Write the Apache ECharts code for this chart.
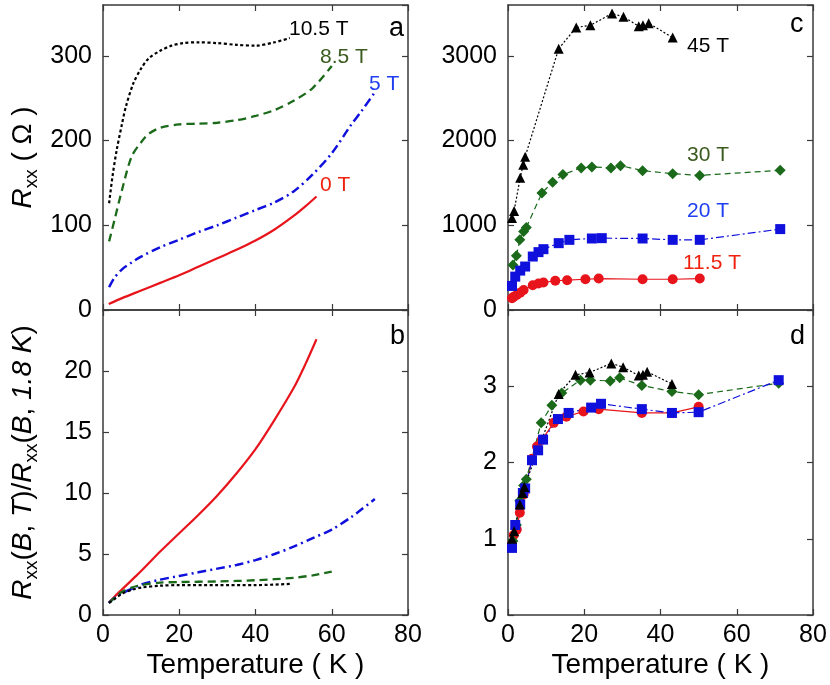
<!DOCTYPE html>
<html><head><meta charset="utf-8">
<script src="https://cdn.jsdelivr.net/npm/echarts@6/dist/echarts.min.js"></script>
<style>html,body{margin:0;padding:0;background:#fff}#c{width:830px;height:685px}</style>
</head><body><div id="c"></div>
<script>
// ---------- Panel a : Rxx (Ohm) vs T ----------
const tA0   = [1.5, 5, 10, 15, 20, 25, 30, 35, 40, 45, 50, 53, 56];
const rA0   = [7, 14, 23, 32, 41, 51, 61, 71, 82, 95, 111, 122, 134];
const tA5   = [1.6, 3, 5, 7.5, 10, 15, 20, 25, 30, 35, 40, 45, 50, 55, 60, 65, 68, 71.3];
const rA5   = [27, 38, 48, 56, 63, 74, 83, 92, 100, 109, 118, 127, 140, 160, 185, 218, 236, 257];
const tA85  = [1.6, 3, 5, 7.5, 10, 12, 15, 20, 25, 30, 35, 40, 45, 50, 55, 60];
const rA85  = [81, 106, 142, 181, 198, 208, 215, 219, 220, 221, 224, 229, 236, 247, 262, 288];
const tA105 = [1.6, 2.5, 3.6, 5, 6, 8, 10, 12, 15, 18, 21, 25, 30, 35, 40, 45, 49];
const rA105 = [126, 158, 189, 220, 240, 268, 285, 297, 306, 312, 315, 316, 315, 313, 312, 316, 321];
// ---------- Panel b : normalised ----------
const tB0   = [1.5, 3, 5, 8, 10, 15, 20, 25, 30, 35, 40, 45, 50, 53, 56];
const vB0   = [1, 1.5, 2.1, 3.0, 3.6, 5.2, 6.7, 8.2, 9.8, 11.6, 13.6, 16.0, 18.6, 20.5, 22.6];
const tB5   = [1.5, 3, 5, 8, 10, 15, 20, 25, 30, 35, 40, 45, 50, 55, 60, 65, 68, 71.3];
const vB5   = [1, 1.4, 1.8, 2.2, 2.5, 2.9, 3.2, 3.5, 3.8, 4.1, 4.5, 5.0, 5.6, 6.3, 7.0, 8.0, 8.7, 9.5];
const tB85  = [1.6, 3, 5, 7.5, 10, 15, 20, 30, 40, 50, 55, 60];
const vB85  = [1, 1.4, 1.9, 2.25, 2.45, 2.65, 2.7, 2.75, 2.85, 3.05, 3.25, 3.55];
const tB105 = [1.6, 3, 5, 8, 10, 15, 20, 30, 40, 49];
const vB105 = [1, 1.3, 1.75, 2.1, 2.25, 2.4, 2.45, 2.45, 2.45, 2.55];
// ---------- Panel c : high-field Rxx ----------
const tC45  = [1.05, 1.6, 3.2, 4.0, 4.5, 13.3, 17.9, 21.6, 27.3, 30.3, 34.3, 35.4, 36.9, 43.2];
const rC45  = [1085, 1170, 1560, 1715, 1810, 3085, 3335, 3360, 3500, 3460, 3350, 3360, 3385, 3215];
const tC30  = [1.3, 2.2, 3.1, 4.1, 4.8, 8.9, 11.7, 14.4, 19.2, 22, 27, 29.5, 35.3, 43.2, 50.3, 71.4];
const rC30  = [532, 640, 828, 927, 975, 1381, 1507, 1598, 1677, 1688, 1677, 1704, 1645, 1609, 1589, 1649];
const tC20  = [1.05, 1.9, 3.2, 4.5, 6.5, 8, 9.3, 13.3, 16.1, 22, 24.6, 35.3, 43.2, 50.3, 71.4];
const rC20  = [284, 394, 465, 513, 631, 683, 718, 789, 828, 844, 848, 844, 828, 828, 955];
const tC115 = [1.05, 1.5, 2.3, 3.2, 4.1, 6.5, 8, 9.3, 12.4, 15.5, 20.3, 23.8, 35.3, 43.2, 50.3];
const rC115 = [140, 157, 177, 205, 237, 292, 312, 325, 345, 352, 363, 371, 363, 363, 371];
// ---------- Panel d : normalised high-field ----------
const tD45  = [1.05, 1.6, 3.1, 3.8, 4.3, 13.3, 17.7, 21.4, 27.1, 30.2, 34.3, 35.4, 36.5, 43];
const vD45  = [1.0, 1.1, 1.45, 1.6, 1.68, 2.9, 3.15, 3.18, 3.3, 3.25, 3.14, 3.15, 3.19, 3.03];
const tD30  = [1.3, 2.2, 3.1, 4.1, 4.8, 8.7, 11.5, 14.1, 19, 21.6, 26.8, 29.3, 35.1, 43, 50, 71];
const vD30  = [0.97, 1.18, 1.5, 1.7, 1.78, 2.52, 2.75, 2.91, 3.08, 3.08, 3.07, 3.11, 3.01, 2.93, 2.89, 3.04];
const tD20  = [1.05, 1.9, 3.2, 3.9, 4.5, 6.3, 7.9, 9.2, 13.1, 15.9, 21.8, 24.4, 35.1, 43, 50, 71];
const vD20  = [0.88, 1.18, 1.45, 1.6, 1.66, 2.03, 2.16, 2.30, 2.57, 2.65, 2.72, 2.77, 2.70, 2.65, 2.66, 3.08];
const tD115 = [1.05, 1.5, 2.3, 3.1, 4.1, 6.3, 7.6, 8.9, 12, 15.3, 19.8, 23.8, 35.1, 43, 50];
const vD115 = [0.93, 1.05, 1.12, 1.34, 1.58, 2.05, 2.21, 2.3, 2.52, 2.6, 2.67, 2.70, 2.65, 2.65, 2.73];
// ---------- axes ----------
const xTicks = [0, 20, 40, 60, 80];
const yTicksA = [0, 100, 200, 300];
const yTicksB = [0, 5, 10, 15, 20];
const yTicksC = [0, 1000, 2000, 3000];
const yTicksD = [0, 1, 2, 3];

const zip = (a, b) => a.map((v, i) => [v, b[i]]);
const FONT = "'Liberation Sans', Arial, Helvetica, sans-serif";
const FRAME = '#3a3a3a';
const RED = '#e8141c', BLUE = '#1010dc', GREEN = '#1a6a1a', BLACK = '#000000';

const grids = [
  {left: 103, top: 5, width: 305, height: 305},
  {left: 103, top: 310, width: 305, height: 305},
  {left: 508, top: 5, width: 305, height: 305},
  {left: 508, top: 310, width: 305, height: 305}
].map(g => Object.assign(g, {containLabel: false, outerBoundsMode: 'none'}));

function xAx(gi, pos, showLabel) {
  return {
    type: 'value', gridIndex: gi, position: pos, min: 0, max: 80, interval: 20,
    axisLine: {show: true, onZero: false, lineStyle: {color: FRAME, width: 1.5}},
    axisTick: {show: true, inside: true, length: 6, lineStyle: {color: FRAME, width: 1.2}},
    splitLine: {show: false},
    axisLabel: {show: showLabel, margin: 8, color: '#000', fontSize: 25, fontFamily: FONT,
      formatter: v => (xTicks.indexOf(v) >= 0 ? String(v) : '')},
    name: (showLabel ? 'Temperature ( K )' : ''), nameLocation: 'middle', nameGap: 36,
    nameTextStyle: {fontSize: 28, color: '#000', fontFamily: FONT}
  };
}
function yAx(gi, pos, max, interval, ticks, showLabel, name) {
  const o = {
    type: 'value', gridIndex: gi, position: pos, min: 0, max: max, interval: interval,
    axisLine: {show: true, onZero: false, lineStyle: {color: FRAME, width: 1.5}},
    axisTick: {show: true, inside: true, length: 6, lineStyle: {color: FRAME, width: 1.2}},
    splitLine: {show: false},
    axisLabel: {show: showLabel, margin: 11, color: '#000', fontSize: 25, fontFamily: FONT,
      showMaxLabel: false,
      formatter: v => (ticks.indexOf(v) >= 0 ? String(v) : '')}
  };
  if (name) {
    o.name = name.text; o.nameLocation = 'middle'; o.nameRotate = 90; o.nameGap = name.gap;
    o.nameTextStyle = {fontFamily: FONT, color: '#000', rich: name.rich};
  }
  return o;
}
const richY = {
  i: {fontSize: 28, fontStyle: 'italic', fontFamily: FONT, color: '#000', lineHeight: 36},
  n: {fontSize: 28, fontFamily: FONT, color: '#000', lineHeight: 36},
  s: {fontSize: 19, fontFamily: FONT, color: '#000', lineHeight: 19, verticalAlign: 'bottom'}
};

const option = {
  animation: false,
  backgroundColor: '#fff',
  grid: grids,
  xAxis: [xAx(0, 'bottom', false), xAx(0, 'top', false), xAx(1, 'bottom', true), xAx(1, 'top', false),
          xAx(2, 'bottom', false), xAx(2, 'top', false), xAx(3, 'bottom', true), xAx(3, 'top', false)],
  yAxis: [
    yAx(0, 'left', 360, 100, yTicksA, true, {text: '{i|R}{s|xx}{n| ( Ω )}', gap: 62, rich: richY}),
    yAx(0, 'right', 360, 100, yTicksA, false),
    yAx(1, 'left', 25, 5, yTicksB, true, {text: '{i|R}{s|xx}{n|(}{i|B}{n|, }{i|T}{n|)/}{i|R}{s|xx}{n|(}{i|B}{n|, }{i|1.8 K}{n|)}', gap: 62, rich: richY}),
    yAx(1, 'right', 25, 5, yTicksB, false),
    yAx(2, 'left', 3600, 1000, yTicksC, true),
    yAx(2, 'right', 3600, 1000, yTicksC, false),
    yAx(3, 'left', 4, 1, yTicksD, true),
    yAx(3, 'right', 4, 1, yTicksD, false)
  ],
  series: [
    // panel a
    {type: 'line', xAxisIndex: 0, yAxisIndex: 0, data: zip(tA0, rA0), showSymbol: false, smooth: 0.3, lineStyle: {color: RED, width: 2.2, type: 'solid'}},
    {type: 'line', xAxisIndex: 0, yAxisIndex: 0, data: zip(tA5, rA5), showSymbol: false, smooth: 0.3, lineStyle: {color: BLUE, width: 2.5, type: [9, 4, 2, 4]}},
    {type: 'line', xAxisIndex: 0, yAxisIndex: 0, data: zip(tA85, rA85), showSymbol: false, smooth: 0.3, lineStyle: {color: GREEN, width: 2.3, type: [8, 5]}},
    {type: 'line', xAxisIndex: 0, yAxisIndex: 0, data: zip(tA105, rA105), showSymbol: false, smooth: 0.3, lineStyle: {color: BLACK, width: 2.2, type: [3, 2.5]}},
    // panel b
    {type: 'line', xAxisIndex: 2, yAxisIndex: 2, data: zip(tB0, vB0), showSymbol: false, smooth: 0.3, lineStyle: {color: RED, width: 2.2, type: 'solid'}},
    {type: 'line', xAxisIndex: 2, yAxisIndex: 2, data: zip(tB5, vB5), showSymbol: false, smooth: 0.3, lineStyle: {color: BLUE, width: 2.5, type: [9, 4, 2, 4]}},
    {type: 'line', xAxisIndex: 2, yAxisIndex: 2, data: zip(tB85, vB85), showSymbol: false, smooth: 0.3, lineStyle: {color: GREEN, width: 2.3, type: [8, 5]}},
    {type: 'line', xAxisIndex: 2, yAxisIndex: 2, data: zip(tB105, vB105), showSymbol: false, smooth: 0.3, lineStyle: {color: BLACK, width: 2.2, type: [3, 2.5]}},
    // panel c
    {type: 'line', xAxisIndex: 4, yAxisIndex: 4, data: zip(tC115, rC115), symbol: 'circle', symbolSize: 10, itemStyle: {color: RED}, lineStyle: {color: RED, width: 1.2, type: 'solid'}},
    {type: 'line', xAxisIndex: 4, yAxisIndex: 4, data: zip(tC30, rC30), symbol: 'diamond', symbolSize: 11, itemStyle: {color: GREEN}, lineStyle: {color: GREEN, width: 1.2, type: [6, 4]}},
    {type: 'line', xAxisIndex: 4, yAxisIndex: 4, data: zip(tC20, rC20), symbol: 'rect', symbolSize: 10, itemStyle: {color: BLUE}, lineStyle: {color: BLUE, width: 1.2, type: [8, 3, 2, 3]}},
    {type: 'line', xAxisIndex: 4, yAxisIndex: 4, data: zip(tC45, rC45), symbol: 'triangle', symbolSize: 10, itemStyle: {color: BLACK}, lineStyle: {color: BLACK, width: 1.2, type: [2, 2]}},
    // panel d
    {type: 'line', xAxisIndex: 6, yAxisIndex: 6, data: zip(tD115, vD115), symbol: 'circle', symbolSize: 10, itemStyle: {color: RED}, lineStyle: {color: RED, width: 1.2, type: 'solid'}},
    {type: 'line', xAxisIndex: 6, yAxisIndex: 6, data: zip(tD30, vD30), symbol: 'diamond', symbolSize: 11, itemStyle: {color: GREEN}, lineStyle: {color: GREEN, width: 1.2, type: [6, 4]}},
    {type: 'line', xAxisIndex: 6, yAxisIndex: 6, data: zip(tD20, vD20), symbol: 'rect', symbolSize: 10, itemStyle: {color: BLUE}, lineStyle: {color: BLUE, width: 1.2, type: [8, 3, 2, 3]}},
    {type: 'line', xAxisIndex: 6, yAxisIndex: 6, data: zip(tD45, vD45), symbol: 'triangle', symbolSize: 10, itemStyle: {color: BLACK}, lineStyle: {color: BLACK, width: 1.2, type: [2, 2]}}
  ],
  graphic: [
    ['10.5 T', 289, 29, '#000', 21], ['8.5 T', 320, 57, '#3a5a1e', 21], ['5 T', 369, 84, '#1f3ff0', 21], ['0 T', 320, 185, '#f0220f', 21],
    ['a', 389, 29, '#000', 27], ['b', 390, 337, '#000', 27], ['c', 790, 25, '#000', 27], ['d', 790, 337, '#000', 27],
    ['45 T', 687, 46, '#000', 21], ['30 T', 687, 155, '#3a5a1e', 21], ['20 T', 687, 211, '#1f3ff0', 21], ['11.5 T', 683, 263, '#f0220f', 21]
  ].map(a => ({type: 'text', x: a[1], y: a[2], z: 100,
    style: {text: a[0], fill: a[3], fontSize: a[4], fontFamily: FONT, textAlign: 'left', textVerticalAlign: 'middle', verticalAlign: 'middle'}}))
};
const chart = echarts.init(document.getElementById('c'), null, {renderer: 'canvas'});
chart.setOption(option);
</script></body></html>
